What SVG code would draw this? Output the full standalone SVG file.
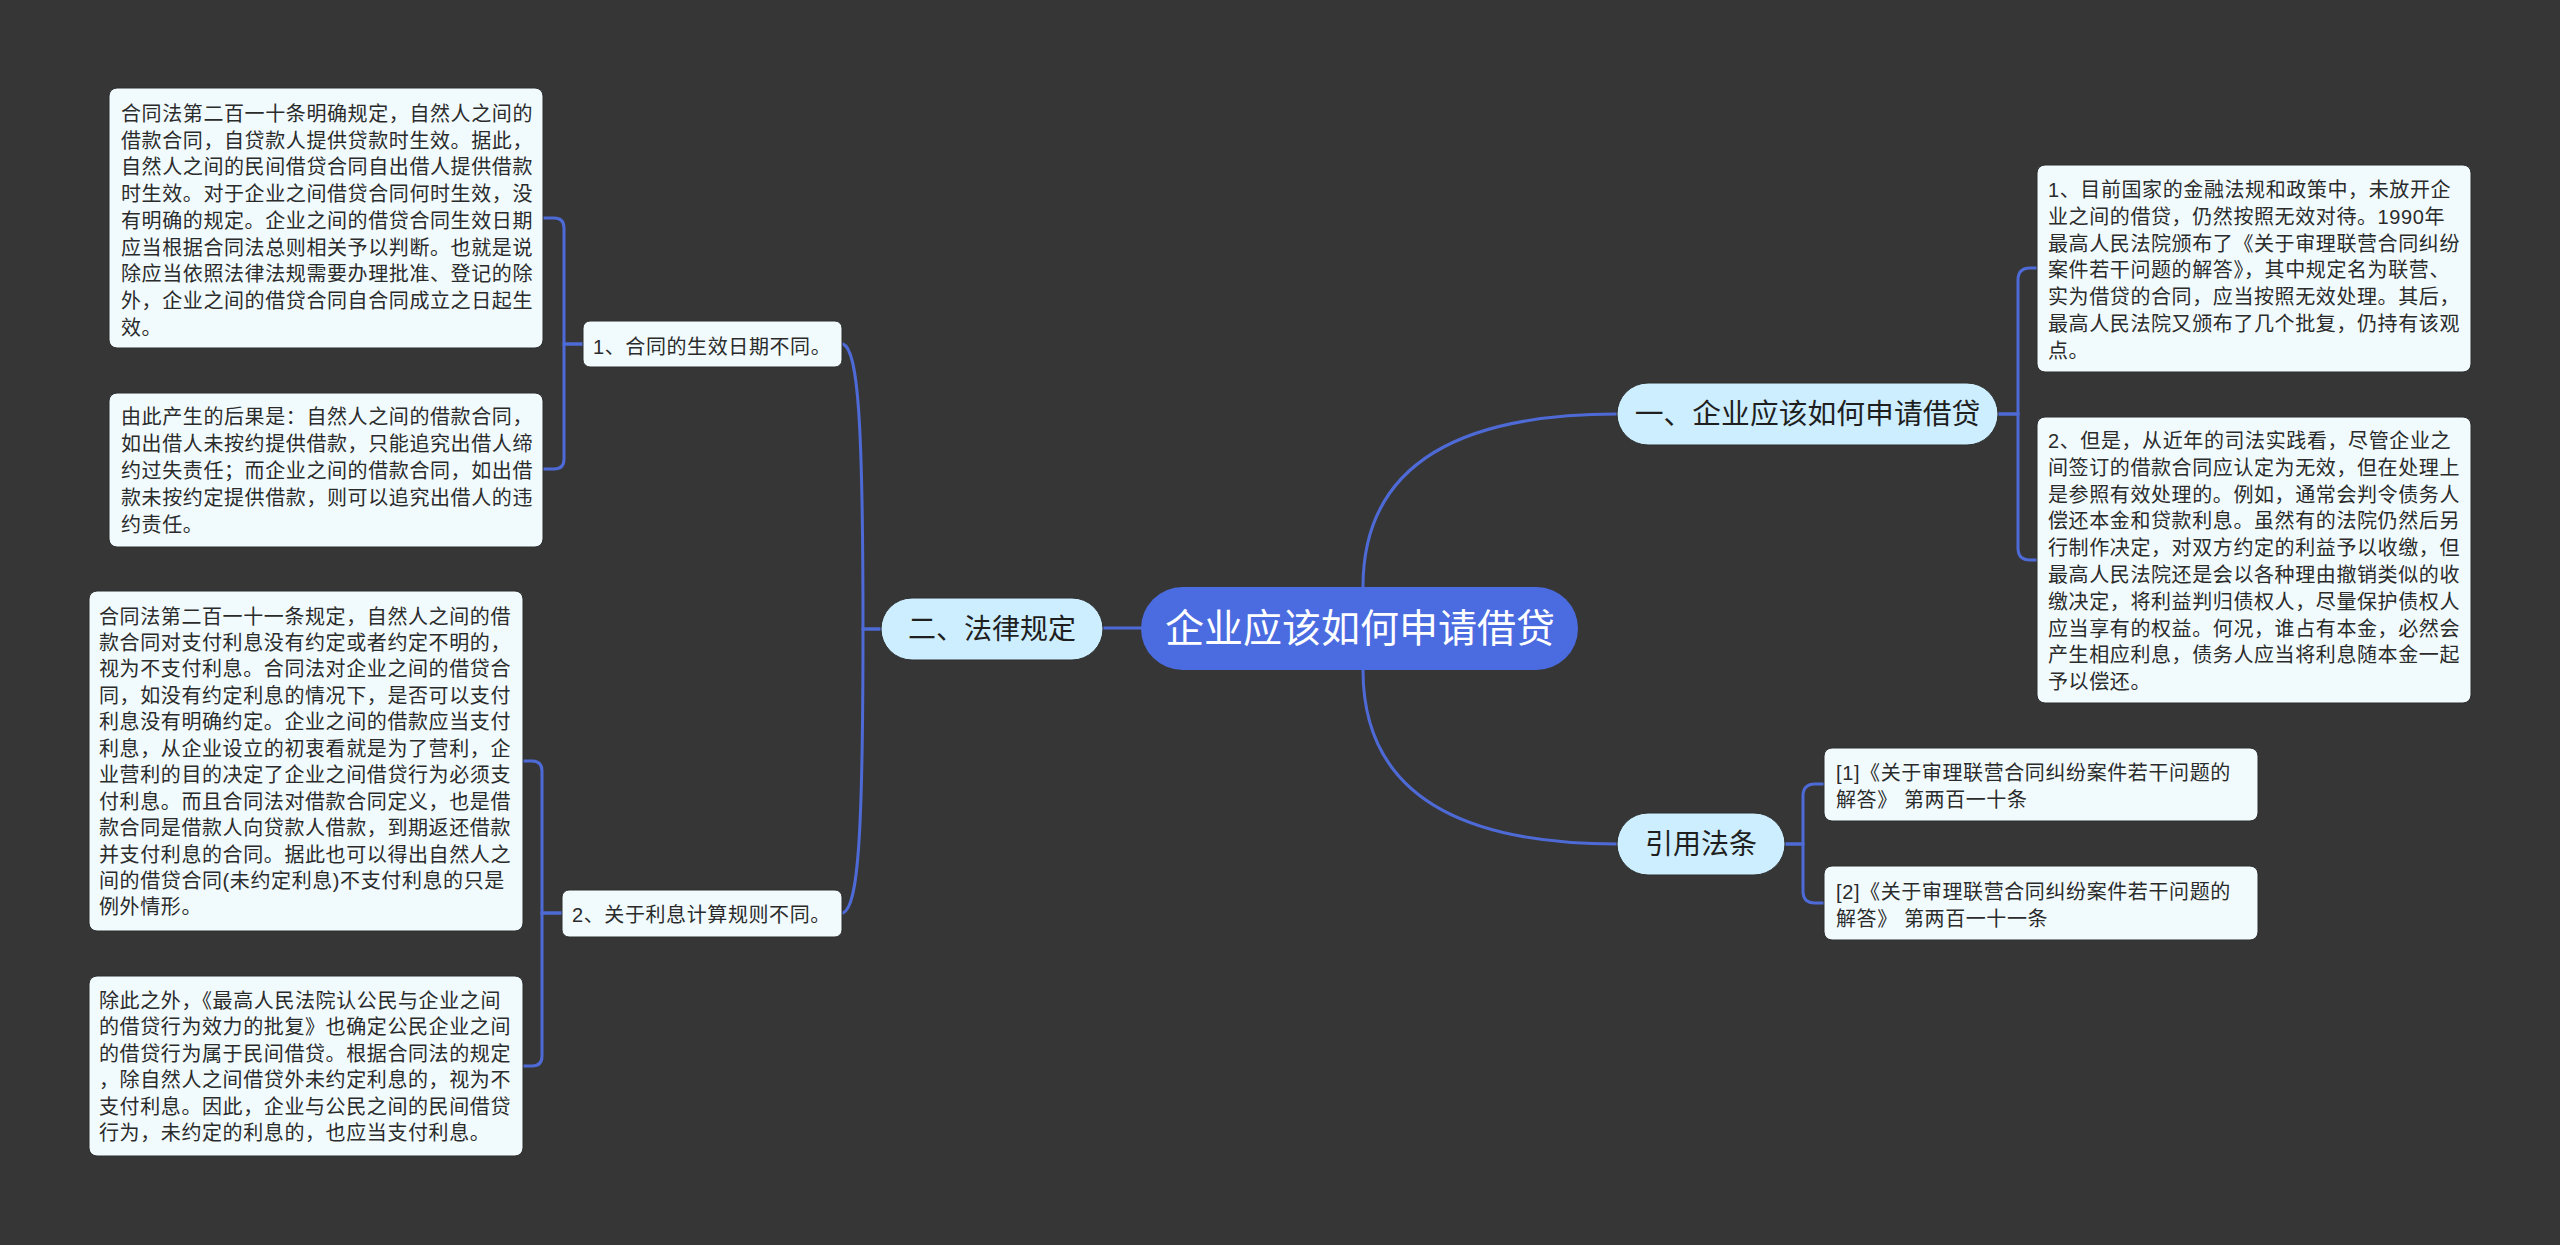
<svg xmlns="http://www.w3.org/2000/svg" width="2560" height="1245" viewBox="0 0 2560 1245">
<style>
.bg{fill:#373637}
.box{fill:#f1fbfe;stroke:#2c2c2c;stroke-width:1}
.pill{fill:#cdeefe;stroke:#2c2c2c;stroke-width:1}
.root{fill:#4b6ce0}
.link{fill:none;stroke:#4d6ad6;stroke-width:3;stroke-linecap:round}
.t{font-family:"Liberation Sans","Noto Sans CJK SC",sans-serif;font-size:20px;letter-spacing:0.6px;fill:#2b2b2b}
.t1{font-family:"Liberation Sans","Noto Sans CJK SC",sans-serif;font-size:28px;fill:#1f1f1f;text-anchor:middle}
.t0{font-family:"Liberation Sans","Noto Sans CJK SC",sans-serif;font-size:39px;fill:#ffffff;text-anchor:middle}
</style>
<rect class="bg" x="0" y="0" width="2560" height="1245"/>

<g id="connectors">
  <path class="link" d="M1141 628 H1103"/>
  <path class="link" d="M881 629 H863 C863 420 858 350 843 344"/>
  <path class="link" d="M881 629 H863 C863 838 858 907 843 913"/>
  <path class="link" d="M583 344 H564 V228 Q564 218 554 218 H543"/>
  <path class="link" d="M583 344 H564 V459 Q564 469 554 469 H543"/>
  <path class="link" d="M562 913 H542 V771 Q542 761 532 761 H523"/>
  <path class="link" d="M562 913 H542 V1056 Q542 1066 532 1066 H523"/>
  <path class="link" d="M1363 587 Q1363 414 1617 414"/>
  <path class="link" d="M1363 670 Q1363 844 1617 844"/>
  <path class="link" d="M1998 414 H2018 V280 Q2018 268 2030 268 H2037"/>
  <path class="link" d="M1998 414 H2018 V548 Q2018 560 2030 560 H2037"/>
  <path class="link" d="M1785 844 H1803 V796 Q1803 784 1815 784 H1824"/>
  <path class="link" d="M1785 844 H1803 V891 Q1803 903 1815 903 H1824"/>
</g>

<g id="root">
  <rect class="root" x="1141" y="587" width="437" height="83" rx="41.5"/>
  <text class="t0" x="1360" y="642">企业应该如何申请借贷</text>
</g>

<g id="n-law">
  <rect class="pill" x="881" y="598" width="222" height="62" rx="31"/>
  <text class="t1" x="992" y="639">二、法律规定</text>
</g>

<g id="n-apply">
  <rect class="pill" x="1617" y="383" width="381" height="62" rx="31"/>
  <text class="t1" x="1807.5" y="424" style="font-size:28.8px">一、企业应该如何申请借贷</text>
</g>

<g id="n-cite">
  <rect class="pill" x="1617" y="813" width="168" height="62" rx="31"/>
  <text class="t1" x="1701" y="854">引用法条</text>
</g>

<g id="n-date">
  <rect class="box" x="583" y="321" width="259" height="46" rx="7"/>
  <text class="t" x="593" y="354">1、合同的生效日期不同。</text>
</g>

<g id="n-interest">
  <rect class="box" x="562" y="890" width="280" height="47" rx="7"/>
  <text class="t" x="572" y="922">2、关于利息计算规则不同。</text>
</g>

<g id="box-a">
  <rect class="box" x="109" y="88" width="434" height="260" rx="8"/>
  <text class="t" y="121">
    <tspan x="121">合同法第二百一十条明确规定，自然人之间的</tspan>
    <tspan x="121" dy="26.7">借款合同，自贷款人提供贷款时生效。据此，</tspan>
    <tspan x="121" dy="26.7">自然人之间的民间借贷合同自出借人提供借款</tspan>
    <tspan x="121" dy="26.7">时生效。对于企业之间借贷合同何时生效，没</tspan>
    <tspan x="121" dy="26.7">有明确的规定。企业之间的借贷合同生效日期</tspan>
    <tspan x="121" dy="26.7">应当根据合同法总则相关予以判断。也就是说</tspan>
    <tspan x="121" dy="26.7">除应当依照法律法规需要办理批准、登记的除</tspan>
    <tspan x="121" dy="26.7">外，企业之间的借贷合同自合同成立之日起生</tspan>
    <tspan x="121" dy="26.7">效。</tspan>
  </text>
</g>

<g id="box-b">
  <rect class="box" x="109" y="393" width="434" height="154" rx="8"/>
  <text class="t" y="424">
    <tspan x="121">由此产生的后果是：自然人之间的借款合同，</tspan>
    <tspan x="121" dy="26.9">如出借人未按约提供借款，只能追究出借人缔</tspan>
    <tspan x="121" dy="26.9">约过失责任；而企业之间的借款合同，如出借</tspan>
    <tspan x="121" dy="26.9">款未按约定提供借款，则可以追究出借人的违</tspan>
    <tspan x="121" dy="26.9">约责任。</tspan>
  </text>
</g>

<g id="box-c">
  <rect class="box" x="89" y="591" width="434" height="340" rx="8"/>
  <text class="t" y="623.5">
    <tspan x="99">合同法第二百一十一条规定，自然人之间的借</tspan>
    <tspan x="99" dy="26.45">款合同对支付利息没有约定或者约定不明的，</tspan>
    <tspan x="99" dy="26.45">视为不支付利息。合同法对企业之间的借贷合</tspan>
    <tspan x="99" dy="26.45">同，如没有约定利息的情况下，是否可以支付</tspan>
    <tspan x="99" dy="26.45">利息没有明确约定。企业之间的借款应当支付</tspan>
    <tspan x="99" dy="26.45">利息，从企业设立的初衷看就是为了营利，企</tspan>
    <tspan x="99" dy="26.45">业营利的目的决定了企业之间借贷行为必须支</tspan>
    <tspan x="99" dy="26.45">付利息。而且合同法对借款合同定义，也是借</tspan>
    <tspan x="99" dy="26.45">款合同是借款人向贷款人借款，到期返还借款</tspan>
    <tspan x="99" dy="26.45">并支付利息的合同。据此也可以得出自然人之</tspan>
    <tspan x="99" dy="26.45">间的借贷合同(未约定利息)不支付利息的只是</tspan>
    <tspan x="99" dy="26.45">例外情形。</tspan>
  </text>
</g>

<g id="box-d">
  <rect class="box" x="89" y="976" width="434" height="180" rx="8"/>
  <text class="t" y="1008">
    <tspan x="99">除此之外，《最高人民法院认公民与企业之间</tspan>
    <tspan x="99" dy="26.45">的借贷行为效力的批复》也确定公民企业之间</tspan>
    <tspan x="99" dy="26.45">的借贷行为属于民间借贷。根据合同法的规定</tspan>
    <tspan x="99" dy="26.45">，除自然人之间借贷外未约定利息的，视为不</tspan>
    <tspan x="99" dy="26.45">支付利息。因此，企业与公民之间的民间借贷</tspan>
    <tspan x="99" dy="26.45">行为，未约定的利息的，也应当支付利息。</tspan>
  </text>
</g>

<g id="box-e">
  <rect class="box" x="2037" y="165" width="434" height="207" rx="8"/>
  <text class="t" y="197">
    <tspan x="2048">1、目前国家的金融法规和政策中，未放开企</tspan>
    <tspan x="2048" dy="26.8">业之间的借贷，仍然按照无效对待。1990年</tspan>
    <tspan x="2048" dy="26.8">最高人民法院颁布了《关于审理联营合同纠纷</tspan>
    <tspan x="2048" dy="26.8">案件若干问题的解答》，其中规定名为联营、</tspan>
    <tspan x="2048" dy="26.8">实为借贷的合同，应当按照无效处理。其后，</tspan>
    <tspan x="2048" dy="26.8">最高人民法院又颁布了几个批复，仍持有该观</tspan>
    <tspan x="2048" dy="26.8">点。</tspan>
  </text>
</g>

<g id="box-f">
  <rect class="box" x="2037" y="417" width="434" height="286" rx="8"/>
  <text class="t" y="448">
    <tspan x="2048">2、但是，从近年的司法实践看，尽管企业之</tspan>
    <tspan x="2048" dy="26.8">间签订的借款合同应认定为无效，但在处理上</tspan>
    <tspan x="2048" dy="26.8">是参照有效处理的。例如，通常会判令债务人</tspan>
    <tspan x="2048" dy="26.8">偿还本金和贷款利息。虽然有的法院仍然后另</tspan>
    <tspan x="2048" dy="26.8">行制作决定，对双方约定的利益予以收缴，但</tspan>
    <tspan x="2048" dy="26.8">最高人民法院还是会以各种理由撤销类似的收</tspan>
    <tspan x="2048" dy="26.8">缴决定，将利益判归债权人，尽量保护债权人</tspan>
    <tspan x="2048" dy="26.8">应当享有的权益。何况，谁占有本金，必然会</tspan>
    <tspan x="2048" dy="26.8">产生相应利息，债务人应当将利息随本金一起</tspan>
    <tspan x="2048" dy="26.8">予以偿还。</tspan>
  </text>
</g>

<g id="box-g">
  <rect class="box" x="1824" y="748" width="434" height="73" rx="8"/>
  <text class="t" y="780">
    <tspan x="1836">[1]《关于审理联营合同纠纷案件若干问题的</tspan>
    <tspan x="1836" dy="27">解答》 第两百一十条</tspan>
  </text>
</g>

<g id="box-h">
  <rect class="box" x="1824" y="866" width="434" height="74" rx="8"/>
  <text class="t" y="899">
    <tspan x="1836">[2]《关于审理联营合同纠纷案件若干问题的</tspan>
    <tspan x="1836" dy="27">解答》 第两百一十一条</tspan>
  </text>
</g>
</svg>
